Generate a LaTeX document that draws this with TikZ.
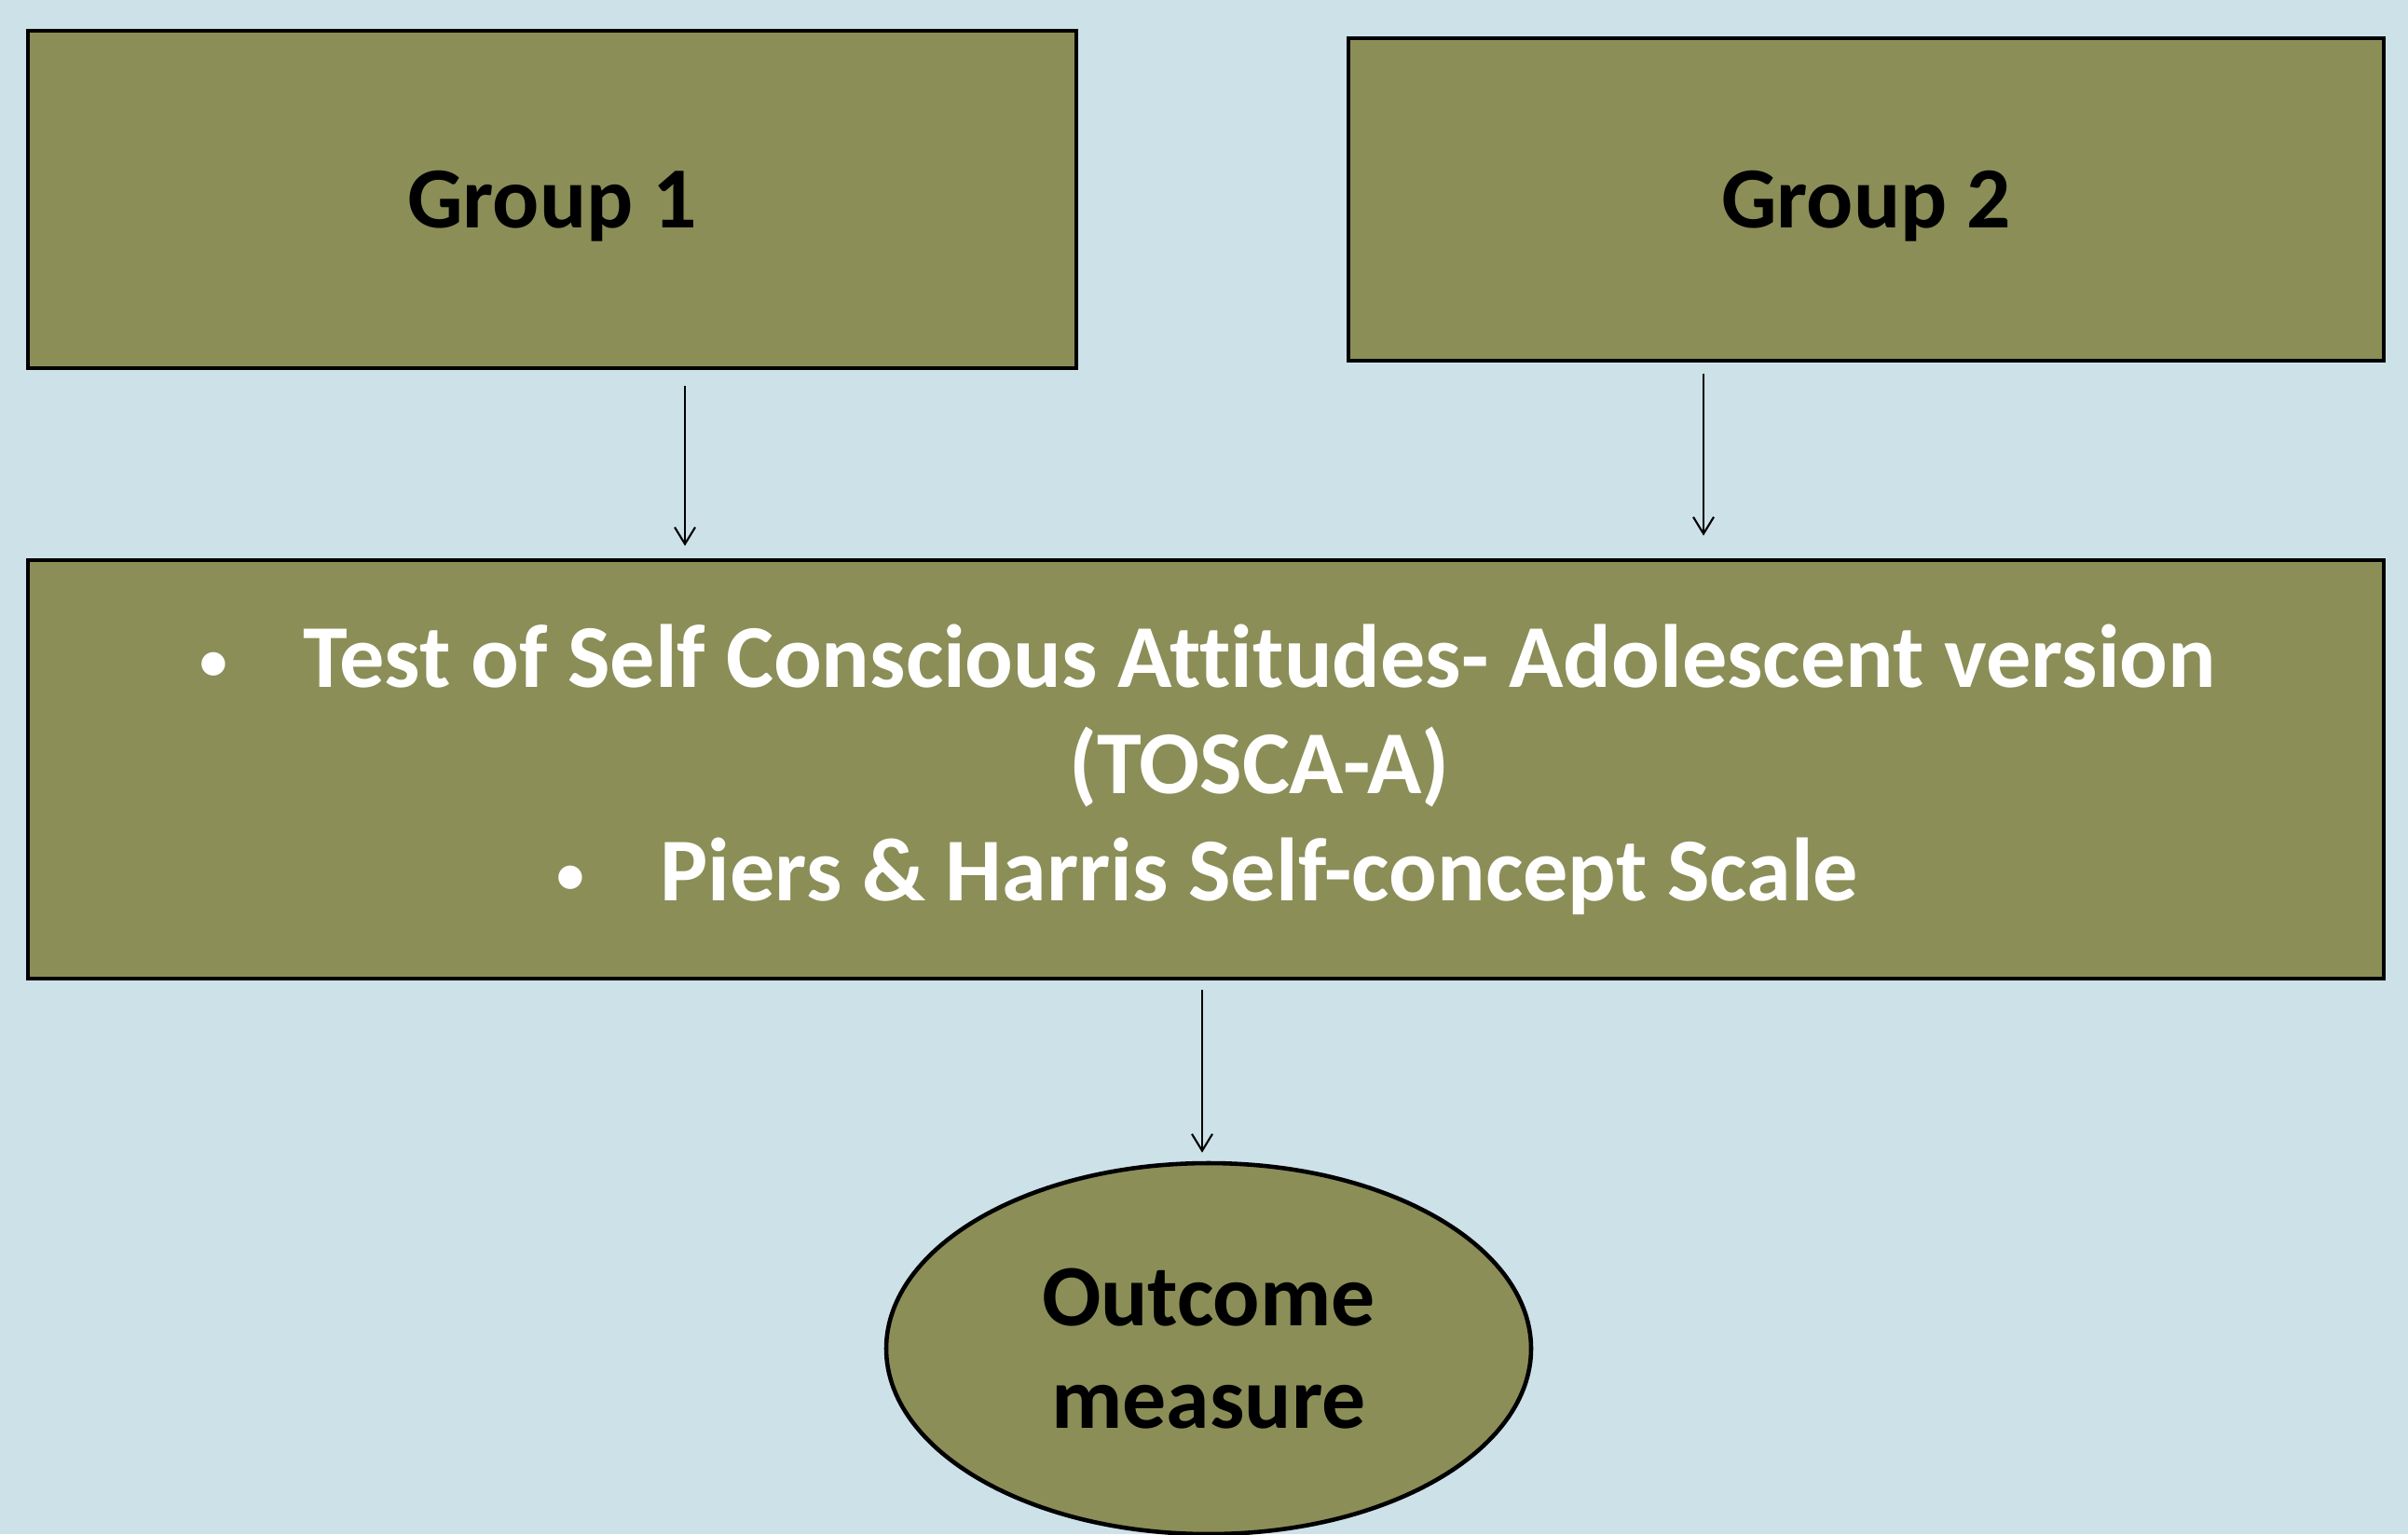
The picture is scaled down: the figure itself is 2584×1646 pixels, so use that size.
\documentclass[tikz,border=0pt]{standalone}
\usepackage{fontspec}
\setmainfont{Carlito}[Ligatures=NoCommon]
\usepackage{xcolor}
\usepackage{tikz}
\usetikzlibrary{arrows.meta,positioning,shapes.geometric}
\definecolor{sky}{HTML}{CDE1E8}
\definecolor{olive}{HTML}{8B8E57}
\definecolor{ink}{HTML}{000000}
\tikzset{
  groupbox/.style={draw=ink,line width=1.3pt,fill=olive,align=center,inner sep=0pt,text depth=0pt,font=\fontsize{26.6}{30}\selectfont\bfseries},
  testbox/.style={draw=ink,line width=1.3pt,fill=olive,align=center,inner sep=0pt,text=white,font=\fontsize{27.4}{32.6}\selectfont\bfseries},
  outcome/.style={draw=ink,line width=1.3pt,fill=olive,ellipse,align=center,inner sep=0pt,font=\fontsize{26.7}{31.4}\selectfont\bfseries},
  link/.style={-{Straight Barb[length=1.8mm,width=2.2mm]},line width=0.6pt,draw=ink}
}
\newcommand{\bul}{\makebox[11.5mm][l]{\hspace*{0.4mm}\raisebox{0.8mm}{\fontsize{17}{17}\selectfont\textbullet}}}

\begin{document}
\begin{tikzpicture}[x=0.1mm,y=-0.1mm]
  \fill[sky] (0,0) rectangle (2584,1646);
  \useasboundingbox (0,0) rectangle (2584,1646);
  \node[groupbox,minimum width=112.5mm,minimum height=36.2mm] (g1) at (592.5,214) {Group 1};
  \node[groupbox,minimum width=111.1mm,minimum height=34.6mm] (g2) at (2002.5,214) {Group 2};
  \node[testbox,minimum width=252.8mm,minimum height=44.9mm] (tests) at (1294,825.5)
    {\bul Test of Self Conscious Attitudes- Adolescent version\\
     \hspace*{11.5mm}(TOSCA-A)\\
     \bul Piers \& Harris Self-concept Scale};
  \node[outcome,minimum width=69.2mm,minimum height=39.8mm] (om) at (1297,1447) {Outcome\\measure};
  % arrows sit off the box centres
  \coordinate (x1) at (735,0);
  \coordinate (x2) at (1828,0);
  \coordinate (x3) at (1290,0);
  \draw[link] ([yshift=-1.7mm]g1.south -| x1) -- ([yshift=1.3mm]tests.north -| x1);
  \draw[link] ([yshift=-1.2mm]g2.south -| x2) -- ([yshift=2.4mm]tests.north -| x2);
  \draw[link] ([yshift=-1mm]tests.south -| x3) -- ([yshift=0.9mm]om.north -| x3);
\end{tikzpicture}
\end{document}
